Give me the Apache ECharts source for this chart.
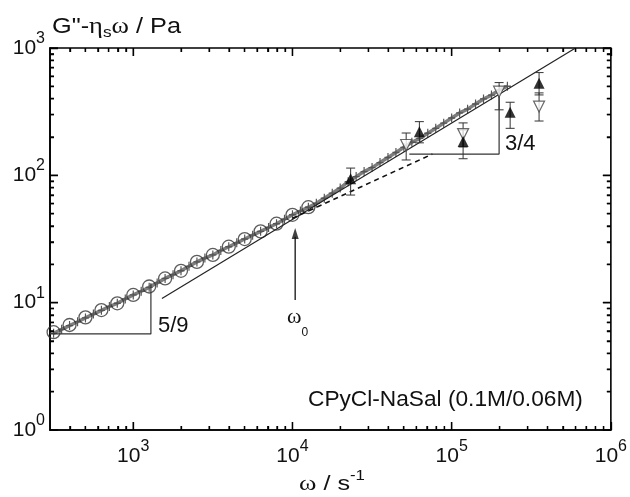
<!DOCTYPE html>
<html><head><meta charset="utf-8">
<script src="https://cdn.jsdelivr.net/npm/echarts@6/dist/echarts.min.js"></script>
<style>html,body{margin:0;padding:0;background:#fff}#c{width:630px;height:497px}</style>
</head><body><div id="c"></div>
<script>
// ---- data ----
const circleFreq = [316,398,501,631,794,1000,1259,1585,1995,2512,3162,3981,5012,6310,7943,10000,12589];
const circleVal  = [5.86,6.68,7.67,8.75,9.89,11.5,13.4,15.5,17.8,20.9,23.7,27.5,31.6,36.3,41.7,49.0,56.2];

const bandFreq = [316,355,398,447,501,562,631,708,794,891,1000,1122,1259,1413,1585,1778,1995,2239,2512,2818,
  3162,3548,3981,4467,5012,5623,6310,7079,7943,8913,10000,11220,12589,14125,15849,17783,19953,22387,25119,28184,
  31623,35481,39811,44668,50119,56234,63096,70795,79433,89125,100000,112202,125893,141254,158489,177828,199526,223872];
const bandVal = [5.75,6.17,6.61,7.08,7.59,8.13,8.71,9.33,9.89,10.7,11.5,12.3,13.2,14.3,15.5,16.6,17.8,19.3,20.9,22.4,
  23.7,25.7,27.5,29.5,31.6,33.9,36.3,38.9,41.7,45.2,49.0,52.5,56.2,60.3,66.1,72.4,79.4,89.1,97.7,107,
  115,126,138,151,166,182,195,214,234,257,282,309,331,363,398,427,468,501];

const filledFreq = [23200,62700,118000,233000,354000];
const filledVal  = [94,220,184,313,529];
const filledLo   = [70,180,135,234,428];
const filledHi   = [114,264,227,375,641];

const openFreq = [51800,118000,198600,354000];
const openVal  = [173,211,454,347];
const openLo   = [132,167,327,267];
const openHi   = [215,258,535,444];

const fitLine34   = [[1514,10.8],[600000,1000]];
const dashedLine  = [[10000,46],[75700,147]];
const triangle59  = [[300,5.68],[1291,5.68],[1291,14.2]];
const triangle34  = [[54200,147],[198600,147],[198600,450]];
const omega0Arrow = [[10400,10.5],[10400,33]];
const omega0Head  = [[10400,35]];

const xMin = 300, xMax = 1e6, yMin = 1, yMax = 1000;
const xMajorTicks = [1e3,1e4,1e5,1e6];
const yMajorTicks = [1,10,100,1000];

// ---- helpers ----
function minorVals(lo, hi){
  const out=[];
  for(let e=Math.floor(Math.log10(lo)); e<Math.log10(hi); e++){
    for(let k=2;k<=9;k++){const v=k*Math.pow(10,e); if(v>lo*1.001 && v<hi) out.push(v);}
  }
  return out;
}
const xMinorTicks = minorVals(xMin,xMax), yMinorTicks = minorVals(yMin,yMax);
const MAJ = 8, MIN = 4;
const GRID = {left:50,right:18,top:48,bottom:67};

const FONT = 'Liberation Sans, Arial, sans-serif';
const SERIF = 'Liberation Serif, serif';
const richPow = {
  b:{fontSize:21,fontFamily:FONT,color:'#111'},
  e:{fontSize:16,fontFamily:FONT,color:'#111',padding:[0,0,19,0]}
};
function powFmt(v){
  const ex = Math.round(Math.log10(v));
  return '{b|10}{e|'+ex+'}';
}
const pair = (xs, ys) => xs.map((x,i)=>[x,ys[i]]);

// one shared renderItem for every custom series: kind 0 = error bar, 1/2 = x tick, 3/4 = y tick
function seg(x1,y1,x2,y2,color,w){
  return {type:'line',shape:{x1:x1,y1:y1,x2:x2,y2:y2},style:{stroke:color,lineWidth:w}};
}
function universalRender(params, api){
  const x=api.value(0), a=api.value(1), b=api.value(2), kind=api.value(3);
  if(kind===0){
    const p1=api.coord([x,a]), p2=api.coord([x,b]), w=4.5;
    return {type:'group',children:[
      seg(p1[0],p1[1],p2[0],p2[1],'#333',1),
      seg(p1[0]-w,p1[1],p1[0]+w,p1[1],'#333',1),
      seg(p2[0]-w,p2[1],p2[0]+w,p2[1],'#333',1)
    ]};
  }
  if(kind===1||kind===2){
    const len = kind===1?MAJ:MIN;
    const pb=api.coord([x,yMin]), pt=api.coord([x,yMax]);
    return {type:'group',children:[
      seg(pb[0],pb[1],pb[0],pb[1]-len,'#000',1.3),
      seg(pt[0],pt[1],pt[0],pt[1]+len,'#000',1.3)
    ]};
  }
  const len = kind===3?MAJ:MIN;
  const pl=api.coord([xMin,a]), pr=api.coord([xMax,a]);
  return {type:'group',children:[
    seg(pl[0],pl[1],pl[0]+len,pl[1],'#000',1.3),
    seg(pr[0],pr[1],pr[0]-len,pr[1],'#000',1.3)
  ]};
}
const tickRows = []
  .concat(xMajorTicks.map(v=>[v,yMin,yMin,1]))
  .concat(xMinorTicks.map(v=>[v,yMin,yMin,2]))
  .concat(yMajorTicks.map(v=>[xMin,v,v,3]))
  .concat(yMinorTicks.map(v=>[xMin,v,v,4]));

// same ticks as a 'lines' series, lengths converted from pixels through the log scales' decade sizes
const pxPerDecY = (497-GRID.top-GRID.bottom)/Math.log10(yMax/yMin);
const pxPerDecX = (630-GRID.left-GRID.right)/Math.log10(xMax/xMin);
const tickLines = [];
function pushX(v,len){
  const f=Math.pow(10,len/pxPerDecY);
  tickLines.push({coords:[[v,yMin],[v,yMin*f]]});
  tickLines.push({coords:[[v,yMax],[v,yMax/f]]});
}
function pushY(v,len){
  const f=Math.pow(10,len/pxPerDecX);
  tickLines.push({coords:[[xMin,v],[xMin*f,v]]});
  tickLines.push({coords:[[xMax,v],[xMax/f,v]]});
}
xMajorTicks.forEach(v=>pushX(v,MAJ)); xMinorTicks.forEach(v=>pushX(v,MIN));
yMajorTicks.forEach(v=>pushY(v,MAJ)); yMinorTicks.forEach(v=>pushY(v,MIN));

const chart = echarts.init(document.getElementById('c'));
chart.setOption({
  animation:false,
  grid:{left:GRID.left,right:GRID.right,top:GRID.top,bottom:GRID.bottom,show:true,borderColor:'#000',borderWidth:1.6,backgroundColor:'rgba(0,0,0,0)'},
  xAxis:[
    {type:'log',min:xMin,max:xMax,
      axisLine:{show:true,onZero:false,lineStyle:{color:'#000',width:1.6}},
      axisTick:{show:false},
      axisLabel:{showMinLabel:false,formatter:powFmt,rich:richPow,margin:9,color:'#111'},
      splitLine:{show:false}}
  ],
  yAxis:[
    {type:'log',min:yMin,max:yMax,
      axisLine:{show:true,onZero:false,lineStyle:{color:'#000',width:1.6}},
      axisTick:{show:false},
      axisLabel:{formatter:powFmt,rich:richPow,margin:5,color:'#111'},
      splitLine:{show:false}}
  ],
  series:[
    {type:'line',data:pair(bandFreq,bandVal),
      lineStyle:{color:'#7e7e7e',width:3.5},
      symbol:'path://M3,0h1.2v3.4h3v1.2h-3v3.4h-1.2v-3.4h-3v-1.2h3z',symbolSize:[7,9],
      itemStyle:{color:'#555'},z:2},
    {type:'scatter',data:pair(circleFreq,circleVal),symbol:'circle',symbolSize:13,
      itemStyle:{color:'rgba(0,0,0,0)',borderColor:'#333',borderWidth:1.3},z:3},
    {type:'line',data:fitLine34,symbol:'none',lineStyle:{color:'#222',width:1.2},z:4},
    {type:'line',data:dashedLine,symbol:'none',lineStyle:{color:'#111',width:1.6,type:[5,4]},z:4},
    {type:'line',data:triangle59,symbol:'none',lineStyle:{color:'#333',width:1.2},z:4},
    {type:'line',data:triangle34,symbol:'none',lineStyle:{color:'#333',width:1.2},z:4},
    {type:'line',data:omega0Arrow,symbol:'none',lineStyle:{color:'#111',width:1.3},z:4},
    {type:'scatter',data:omega0Head,symbol:'triangle',symbolSize:[7,11],itemStyle:{color:'#111'},z:4},
    {type:'custom',renderItem:universalRender,
      data:filledFreq.map((f,i)=>[f,filledLo[i],filledHi[i],0]).concat(openFreq.map((f,i)=>[f,openLo[i],openHi[i],0])),
      encode:{x:0,y:[1,2]},z:5},
    {type:'scatter',data:pair(openFreq,openVal),symbol:'triangle',symbolRotate:180,symbolSize:11,
      itemStyle:{color:'#fff',borderColor:'#444',borderWidth:1.2},z:6},
    {type:'scatter',data:pair(filledFreq,filledVal),symbol:'triangle',symbolSize:11,
      itemStyle:{color:'#000'},z:6},
    {type:'lines',coordinateSystem:'cartesian2d',data:tickLines,symbol:'none',
      lineStyle:{color:'#000',width:1.3,opacity:1},silent:true,z:9},
    {type:'custom',renderItem:universalRender,data:tickRows,encode:{x:0,y:[1,2]},clip:false,z:9}
  ],
  graphic:[
    {type:'text',left:52,top:15,scaleX:1.15,style:{
      text:'{a|G"-}{g|η}{s|s}{g|ω}{a| / Pa}',
      rich:{a:{fontSize:22,fontFamily:FONT,fill:'#111'},
            g:{fontSize:23,fontFamily:SERIF,fill:'#111'},
            s:{fontSize:15,fontFamily:FONT,fill:'#111',padding:[13,0,0,0]}}}},
    {type:'text',left:299,top:469,scaleX:1.2,style:{
      text:'{g|ω}{a| / s}{e|-1}',
      rich:{a:{fontSize:21,fontFamily:FONT,fill:'#111'},
            g:{fontSize:22,fontFamily:SERIF,fill:'#111'},
            e:{fontSize:14,fontFamily:FONT,fill:'#111',padding:[0,0,16,0]}}}},
    {type:'text',left:287,top:306,style:{
      text:'{g|ω}{s|0}',
      rich:{g:{fontSize:22,fontFamily:SERIF,fill:'#111'},
            s:{fontSize:12,fontFamily:FONT,fill:'#111',padding:[32,0,0,0]}}}},
    {type:'text',x:158,y:326,style:{text:'5/9',font:'22px '+FONT,fill:'#111',verticalAlign:'middle'}},
    {type:'text',x:505,y:144,style:{text:'3/4',font:'22px '+FONT,fill:'#111',verticalAlign:'middle'}},
    {type:'text',x:308,y:400,style:{text:'CPyCl-NaSal (0.1M/0.06M)',font:'22.7px '+FONT,fill:'#111',verticalAlign:'middle'}}
  ]
});
</script>
</body></html>
